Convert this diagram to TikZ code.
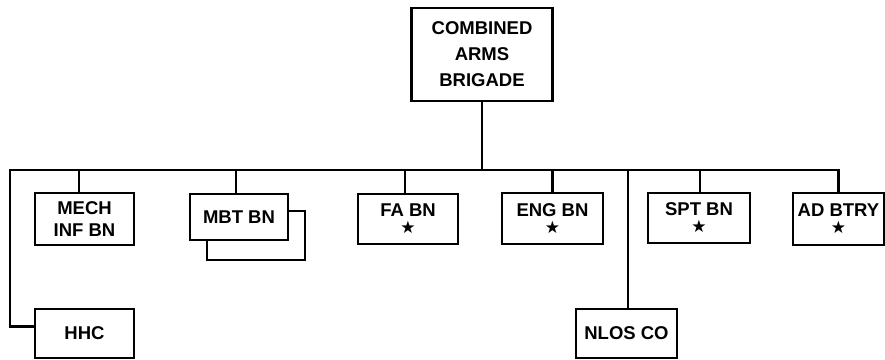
\documentclass[tikz,border=0pt]{standalone}
\usepackage{fontspec}
\setmainfont{Liberation Sans}
\newfontfamily\starfont{DejaVu Sans}
\newcommand{\mystar}{{\starfont\fontsize{17}{17}\selectfont ★}}
\begin{document}
\begin{tikzpicture}[x=1pt,y=-1pt,
  unit/.style={draw,line width=2.2pt,rectangle,inner sep=0pt,align=center,
    font=\bfseries\fontsize{18.5}{22}\selectfont},
  link/.style={line width=2.2pt}]
\useasboundingbox (0,0) rectangle (885,359);
% top
\node[unit,minimum width=141pt,minimum height=93pt,
  font=\bfseries\fontsize{18.5}{26}\selectfont] (cab) at (482,54.5) {COMBINED\\ARMS\\BRIGADE};
% bus
\coordinate (bL) at (10,170);
\coordinate (bR) at (839,170);
% children
\node[unit,minimum width=99pt,minimum height=52pt] (mech) at (84.5,219) {MECH\\INF BN};
\node[unit,minimum width=98pt,minimum height=46pt] (mbt) at (239,217) {MBT BN};
\node[unit,minimum width=100pt,minimum height=50pt] (fa) at (408,219) {FA BN\\[-5pt]\mystar};
\node[unit,minimum width=101pt,minimum height=51pt] (eng) at (552.5,218.5) {ENG BN\\[-5pt]\mystar};
\node[unit,minimum width=102pt,minimum height=50pt] (spt) at (699,218) {SPT BN\\[-5pt]\mystar};
\node[unit,minimum width=91pt,minimum height=52pt] (ad) at (838.5,219) {AD BTRY\\[-5pt]\mystar};
\node[unit,minimum width=99pt,minimum height=49pt] (hhc) at (84.5,333.5) {HHC};
\node[unit,minimum width=101pt,minimum height=49pt] (nlos) at (626.5,333.5) {NLOS CO};
% connectors
\draw[link] (cab.south) -- (cab.south |- bL);
\draw[link,line cap=rect] (bL) -- (bR);
\draw[link] ([xshift=-5.5pt]mech.north) -- ([xshift=-5.5pt]mech.north |- bL);
\draw[link] ([xshift=-3pt]mbt.north) -- ([xshift=-3pt]mbt.north |- bL);
\draw[link] ([xshift=-3pt]fa.north) -- ([xshift=-3pt]fa.north |- bL);
\draw[link] (eng.north) -- (eng.north |- bL);
\draw[link] ([xshift=1pt]spt.north) -- ([xshift=1pt]spt.north |- bL);
\draw[link] (ad.north) -- (ad.north |- bR);
\draw[link] ([xshift=1.5pt]nlos.north) -- ([xshift=1.5pt]nlos.north |- bL);
\draw[link,line join=miter] (bL) |- ([yshift=7pt]hhc.west);
% MBT stacked box
\coordinate (mbtcorner) at (305,211);
\draw[link,line join=miter] ([xshift=18pt]mbt.south west) -- ++(0,19) -| (mbtcorner) -- (mbtcorner -| mbt.east);
\end{tikzpicture}
\end{document}
